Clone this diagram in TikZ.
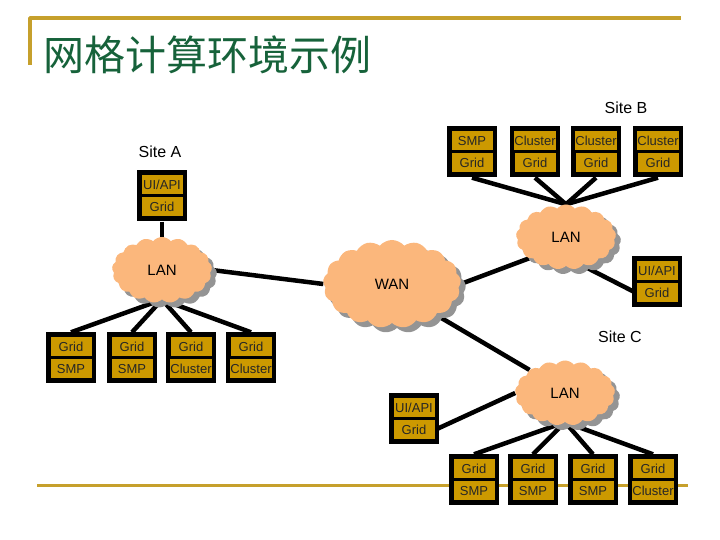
\documentclass[tikz,border=0pt]{standalone}
\usepackage{fontspec}
\setmainfont{Liberation Sans}
\newfontfamily\cjktitle{Noto Sans CJK SC}
\usetikzlibrary{shapes.symbols,shadows,backgrounds}
\definecolor{gridgold}{RGB}{204,153,0}
\definecolor{rulegold}{RGB}{198,160,44}
\definecolor{cloudpeach}{RGB}{251,183,124}
\definecolor{titlegreen}{RGB}{22,98,58}
\tikzset{
  stackbox/.style={rectangle,fill=black,minimum width=50bp,minimum height=51bp,inner sep=0pt},
  cell/.style={rectangle,fill=gridgold,minimum width=41bp,minimum height=19bp,inner sep=0pt,font=\fontsize{13bp}{13bp}\selectfont,text=black!85},
  lan/.style={cloud,cloud puffs=17,cloud puff arc=100,cloud ignores aspect,fill=cloudpeach,
    minimum width=100bp,minimum height=65bp,font=\fontsize{15bp}{15bp}\selectfont,
    drop shadow={shadow xshift=5bp,shadow yshift=-5bp,fill=black!42,opacity=1}},
  link/.style={line width=4.5bp},
  sitelabel/.style={font=\fontsize{16bp}{16bp}\selectfont},
}
\begin{document}
\begin{tikzpicture}[line join=bevel,]
\useasboundingbox (0bp,0bp) rectangle (720bp,540bp);
%% title
\draw [rulegold,line width=3.5bp] (30bp,475bp) -- (30bp,522bp) -- (681bp,522bp);
\node (Title) at (43bp,485bp) [anchor=west,inner sep=0pt,text=titlegreen,font=\cjktitle\fontsize{41bp}{41bp}\selectfont] {网格计算环境示例};
%% site labels
\node (LblA) at (160bp,388bp) [sitelabel] {Site A};
\node (LblB) at (626bp,432bp) [sitelabel] {Site B};
\node (LblC) at (620bp,203bp) [sitelabel] {Site C};
%% networks
\node (LanA) at (162bp,270bp) [lan,minimum height=66bp] {LAN};
\node (Wan) at (392bp,256bp) [lan,minimum width=138bp,minimum height=88bp] {WAN};
\node (LanB) at (566bp,303bp) [lan] {LAN};
\node (LanC) at (565bp,147bp) [lan] {LAN};
%% site A
\node (UiA) at (162bp,344bp) [stackbox] {};
  \node (UiAt) at (162bp,355bp) [cell] {UI/API};
  \node (UiAb) at (162bp,333bp) [cell] {Grid};
\node (A1) at (71bp,182bp) [stackbox] {};
  \node (A1t) at (71bp,193bp) [cell] {Grid};
  \node (A1b) at (71bp,171bp) [cell] {SMP};
\node (A2) at (132bp,182bp) [stackbox] {};
  \node (A2t) at (132bp,193bp) [cell] {Grid};
  \node (A2b) at (132bp,171bp) [cell] {SMP};
\node (A3) at (191bp,182bp) [stackbox] {};
  \node (A3t) at (191bp,193bp) [cell] {Grid};
  \node (A3b) at (191bp,171bp) [cell] {Cluster};
\node (A4) at (251bp,182bp) [stackbox] {};
  \node (A4t) at (251bp,193bp) [cell] {Grid};
  \node (A4b) at (251bp,171bp) [cell] {Cluster};
%% site B
\node (B1) at (472bp,388bp) [stackbox] {};
  \node (B1t) at (472bp,399bp) [cell] {SMP};
  \node (B1b) at (472bp,377bp) [cell] {Grid};
\node (B2) at (535bp,388bp) [stackbox] {};
  \node (B2t) at (535bp,399bp) [cell] {Cluster};
  \node (B2b) at (535bp,377bp) [cell] {Grid};
\node (B3) at (596bp,388bp) [stackbox] {};
  \node (B3t) at (596bp,399bp) [cell] {Cluster};
  \node (B3b) at (596bp,377bp) [cell] {Grid};
\node (B4) at (658bp,388bp) [stackbox] {};
  \node (B4t) at (658bp,399bp) [cell] {Cluster};
  \node (B4b) at (658bp,377bp) [cell] {Grid};
\node (UiB) at (657bp,258bp) [stackbox] {};
  \node (UiBt) at (657bp,269bp) [cell] {UI/API};
  \node (UiBb) at (657bp,247bp) [cell] {Grid};
%% site C
\node (UiC) at (414bp,121bp) [stackbox] {};
  \node (UiCt) at (414bp,132bp) [cell] {UI/API};
  \node (UiCb) at (414bp,110bp) [cell] {Grid};
\node (C1) at (474bp,60bp) [stackbox] {};
  \node (C1t) at (474bp,71bp) [cell] {Grid};
  \node (C1b) at (474bp,49bp) [cell] {SMP};
\node (C2) at (533bp,60bp) [stackbox] {};
  \node (C2t) at (533bp,71bp) [cell] {Grid};
  \node (C2b) at (533bp,49bp) [cell] {SMP};
\node (C3) at (593bp,60bp) [stackbox] {};
  \node (C3t) at (593bp,71bp) [cell] {Grid};
  \node (C3b) at (593bp,49bp) [cell] {SMP};
\node (C4) at (653bp,60bp) [stackbox] {};
  \node (C4t) at (653bp,71bp) [cell] {Grid};
  \node (C4b) at (653bp,49bp) [cell] {Cluster};
%% links
\begin{pgfonlayer}{background}
  \draw [rulegold,line width=3bp] (37bp,54bp) -- (688bp,54bp);
  \draw [link] (UiA.south) -- (LanA.north);
  \draw [link] (LanA.south) -- (A1.north);
  \draw [link] (LanA.south) -- (A2.north);
  \draw [link] (LanA.south) -- (A3.north);
  \draw [link] (LanA.south) -- (A4.north);
  \draw [link] (LanA.east) -- (Wan.west);
  \draw [link] (Wan.east) -- (LanB.210);
  \draw [link] (LanB.north) -- (B1.south);
  \draw [link] (LanB.north) -- (B2.south);
  \draw [link] (LanB.north) -- (B3.south);
  \draw [link] (LanB.north) -- (B4.south);
  \draw [link] (LanB.-60) -- (UiBb.west);
  \draw [link] (Wan.-35) -- (LanC.north west);
  \draw [link] (LanC.west) -- (UiCb.east);
  \draw [link] (LanC.south) -- (C1.north);
  \draw [link] (LanC.south) -- (C2.north);
  \draw [link] (LanC.south) -- (C3.north);
  \draw [link] (LanC.south) -- (C4.north);
\end{pgfonlayer}
%
\end{tikzpicture}
\end{document}
